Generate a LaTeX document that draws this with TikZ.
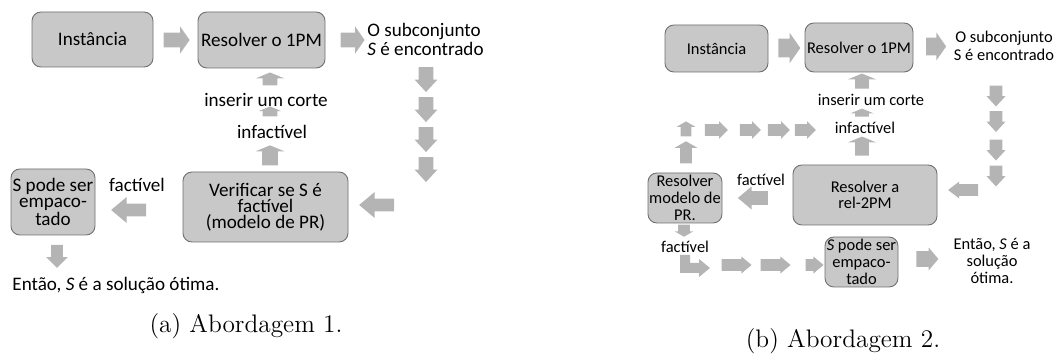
\documentclass[tikz,border=0pt]{standalone}
\usepackage{fontspec}
\newfontfamily\carl{Carlito}
\usetikzlibrary{shapes.arrows}
\definecolor{boxfill}{RGB}{200,200,200}
\definecolor{boxline}{RGB}{110,110,110}
\definecolor{arrfill}{RGB}{180,180,180}
\def\pxl{0.45pt}
\tikzset{
  boxA/.style 2 args={draw=boxline, fill=boxfill, rounded corners=4pt, line width=0.4pt,
    minimum width=#1*\pxl, minimum height=#2*\pxl, inner sep=0pt, align=center,
    font=\carl\fontsize{8.6}{7.3}\selectfont},
  boxB/.style 2 args={boxA={#1}{#2}, font=\carl\fontsize{7.4}{7.5}\selectfont},
  txtA/.style={inner sep=0pt, align=center, font=\carl\fontsize{8.6}{7.3}\selectfont},
  txtB/.style={inner sep=0pt, align=center, font=\carl\fontsize{7.4}{7.8}\selectfont},
  blk/.style n args={4}{single arrow, fill=arrfill, inner sep=0pt, minimum width=0pt,
    minimum height=#1*\pxl, inner ysep=#3*\pxl/2, single arrow head extend=(#2-#3)*\pxl/2,
    single arrow tip angle=#4},
  capt/.style={inner sep=0pt, font=\fontsize{11.4}{13}\selectfont}
}
\begin{document}
\begin{tikzpicture}[x=0.45pt, y=-0.45pt]
\useasboundingbox (0,0) rectangle (1056,354);
% (a)
\node[boxA={121}{55}] (instA) at (92.5,39.5) {Instância};
\node[boxA={127}{56}] (resA) at (261.5,40) {Resolver o 1PM};
\node[txtA, anchor=west, align=left] (subA) at (367,39.5) {O subconjunto\\\textit{S} é encontrado};
\node[boxA={165}{70}] (verA) at (265.5,207) {Verificar se S é\\factível\\(modelo de PR)};
\node[boxA={84}{66}] (podeA) at (53,202) {S pode ser\\empaco-\\tado};
\node[txtA] (cortA) at (266,100) {inserir um corte};
\node[txtA] (infA) at (272,132) {infactível};
\node[txtA] (facA) at (137,185) {factível};
\node[txtA, anchor=west] (otimA) at (12,285) {Então, \textit{S} é a solução ótima.};
\node[capt] (capA) at (246,326) {(a) Abordagem 1.};
\node[blk={26}{26}{14}{110}] (aA1) at (174,40) {};
\node[blk={24}{26}{14}{110}] (aA2) at (350,40) {};
\foreach \y [count=\i] in {75.5,105.5,135.5,165.5}
  \node[blk={25}{22}{14}{85}, rotate=-90] (dA\i) at (426,\y) {};
\node[blk={13}{28}{14}{135}, rotate=90] (uA1) at (270,80.5) {};
\node[blk={10}{22}{14}{135}, rotate=90] (uA2) at (270,113) {};
\node[blk={20}{28}{15}{135}, rotate=90] (uA3) at (270,157) {};
\node[blk={35}{25}{12}{80}, rotate=180] (lA1) at (380.5,205) {};
\node[blk={35}{25}{12}{80}, rotate=180] (lA2) at (132.5,210) {};
\node[blk={23}{21}{11}{90}, rotate=-90] (dA5) at (57,253.5) {};
% (b)
\node[boxB={103}{47}] (instB) at (716.5,48.5) {Instância};
\node[boxB={108}{49}] (resB) at (859,47.5) {Resolver o 1PM};
\node[txtB] (subB) at (1004,46) {O subconjunto\\S é encontrado};
\node[boxB={144}{60}] (relB) at (865,195) {Resolver a\\rel-2PM};
\node[boxB={74}{50}] (modB) at (685,198) {Resolver\\modelo de\\PR.};
\node[boxB={73}{50}] (podeB) at (861.5,262) {\textit{S} pode ser\\empaco-\\tado};
\node[txtB] (cortB) at (871,100) {inserir um corte};
\node[txtB] (infB) at (865,128) {infactível};
\node[txtB] (facB1) at (761,180) {factível};
\node[txtB] (facB2) at (685,247) {factível};
\node[txtB] (otimB) at (992,261) {Então, \textit{S} é a\\solução\\ótima.};
\node[capt] (capB) at (843,341) {(b) Abordagem 2.};
\node[blk={22}{30}{18}{110}] (aB1) at (786,48) {};
\node[blk={20}{27}{17}{110}] (aB2) at (933,46.5) {};
\foreach \y [count=\i] in {92.5,118,146.5,172.5}
  \node[blk={21}{18}{12}{85}, rotate=-90] (dB\i) at (996,\y) {};
\node[blk={30}{16}{11}{75}, rotate=180] (lB1) at (967,190) {};
\node[blk={15}{27}{13}{135}, rotate=90] (uB1) at (862,82.5) {};
\node[blk={8}{22}{13}{135}, rotate=90] (uB2) at (862,114) {};
\node[blk={19}{27}{13}{135}, rotate=90] (uB3) at (862,147.5) {};
\node[blk={15}{18}{10}{120}, rotate=90] (uB4) at (686,130.5) {};
\node[blk={22}{22}{11}{120}, rotate=90] (uB5) at (686,154) {};
\foreach \x/\l [count=\i] in {713.5/23,747.5/21,776/22,802.5/21}
  \node[blk={\l}{17}{11}{90}] (rB\i) at (\x,130) {};
\node[blk={30}{22}{13}{80}, rotate=180] (lB2) at (757,198) {};
\node[blk={12}{18}{11}{120}, rotate=-90] (dB5) at (684,229) {};
\foreach \x/\l [count=\i] in {733/30,772/30,811/18}
  \node[blk={\l}{16}{11}{80}] (bB\i) at (\x,265) {};
\node[blk={22}{22}{15}{100}] (aB3) at (924,259) {};
\fill[arrfill] (680,255) -- (690,255) -- (690,263) -- (699,263) -- (699,259) -- (710,268)
  -- (699,277) -- (699,273) -- (680,273) -- cycle;
\end{tikzpicture}
\end{document}
